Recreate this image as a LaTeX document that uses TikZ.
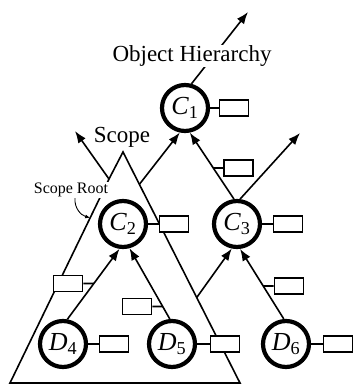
\documentclass[tikz,border=0pt]{standalone}
\usepackage{fontspec}
\setmainfont{Liberation Serif}
\usepackage{tikz}
\usetikzlibrary{calc, arrows.meta}
\tikzset{>={Latex[length=12pt,width=9pt]}}
\tikzset{
  obj/.style={circle, draw, fill=white, line width=4.2pt, minimum size=46pt, inner sep=0pt, font=\fontsize{26}{26}\selectfont},
  attr/.style={draw, fill=white, line width=1.6pt, minimum width=29pt, minimum height=16pt, inner sep=0pt},
  link/.style={line width=1.6pt},
  lbl/.style={fill=white, inner sep=1pt, font=\fontsize{23}{27}\selectfont},
}

\begin{document}
\begin{tikzpicture}[x=1pt, y=-1pt]
\useasboundingbox (0,0) rectangle (354,385);
% scope triangle
\coordinate (apex) at (123,152);
\coordinate (notch) at (109,179);
\coordinate (sl) at (10,383);
\coordinate (sr) at (240,383);
\coordinate (stip) at (75,131);
\draw[link] (sl) -- (notch) -- (apex) -- (sr) -- cycle;
\draw[link, ->] (notch) -- (stip);
\coordinate (p1) at ($(apex)!0.14!(sr)$);
\coordinate (p2) at ($(apex)!0.63!(sr)$);
\coordinate (rootpt) at ($(notch)!0.19!(sl)$);
% objects
\node[obj] (c1) at (185,108) {\textit{C}\textsubscript{1}};
\node[obj] (c2) at (123,224) {\textit{C}\textsubscript{2}};
\node[obj] (c3) at (237,224) {\textit{C}\textsubscript{3}};
\node[obj] (d4) at (63,344) {\textit{D}\textsubscript{4}};
\node[obj] (d5) at (172,344) {\textit{D}\textsubscript{5}};
\node[obj] (d6) at (286,344) {\textit{D}\textsubscript{6}};
% attributes of the objects
\node[attr] (a1) at (234,108) {};
\node[attr] (a2) at (174,224) {};
\node[attr] (a3) at (288,224) {};
\node[attr] (a4) at (114,344) {};
\node[attr] (a5) at (225,344) {};
\node[attr] (a6) at (338,344) {};
\foreach \o/\a in {c1/a1, c2/a2, c3/a3, d4/a4, d5/a5, d6/a6}
  \draw[link] (\o) -- (\a);
% hierarchy links
\coordinate (out1) at (248,12);
\coordinate (out3) at (300,133);
\draw[link, ->] (c1.75) -- (out1);
\draw[link, ->] (p1) -- (c1.258);
\draw[link, ->] (c3.97) -- (c1.281);
\draw[link, ->] (c3.83) -- (out3);
\draw[link, ->] (p2) -- (c3.258);
\draw[link, ->] (d4.80) -- (c2.262);
\draw[link, ->] (d5.95) -- (c2.285);
\draw[link, ->] (d6.95) -- (c3.277);
% attributes of the links
\node[attr] (e31) at (238.5,168) {};
\node[attr] (e42) at (68,283.5) {};
\node[attr] (e52) at (137,306.5) {};
\node[attr] (e63) at (289,286) {};
\coordinate (j31) at (intersection of c3.97--c1.281 and e31.west--e31.east);
\coordinate (j42) at (intersection of d4.80--c2.262 and e42.west--e42.east);
\coordinate (j52) at (intersection of d5.95--c2.285 and e52.west--e52.east);
\coordinate (j63) at (intersection of d6.95--c3.277 and e63.west--e63.east);
\foreach \j/\e in {j31/e31, j42/e42, j52/e52, j63/e63}
  \draw[link] (\j) -- (\e);
% labels
\node[lbl] (hier) at (192,56) {Object Hierarchy};
\node[lbl, fill=none] (scope) at (122,137) {Scope};
\node[lbl, font=\fontsize{16}{18}\selectfont] (root) at (71,190) {Scope Root};
\draw[-{Latex[length=5pt,width=4pt]}, line width=0.9pt] ([xshift=4pt]root.south) to[out=-95, in=165] (rootpt);
\end{tikzpicture}
\end{document}
